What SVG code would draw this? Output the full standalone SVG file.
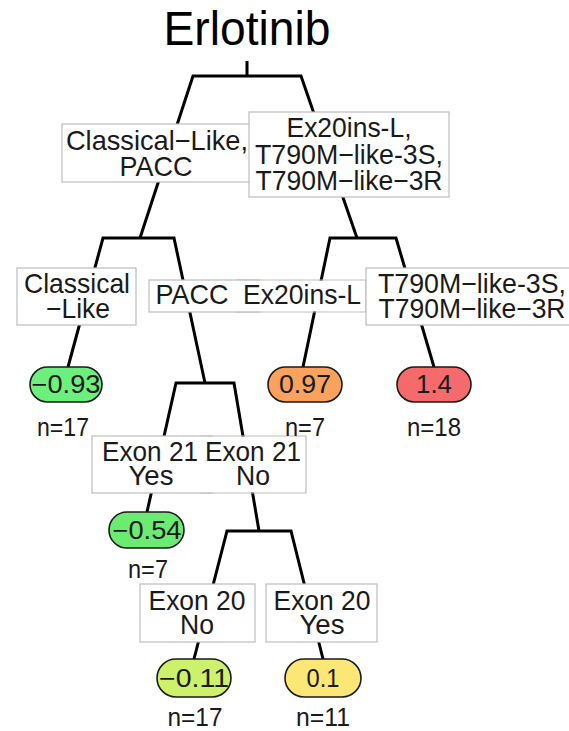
<svg xmlns="http://www.w3.org/2000/svg" width="569" height="731" viewBox="0 0 569 731">
  <style>
    text { font-family: "Liberation Sans", Arial, Helvetica, sans-serif; fill: #1a1a1a; text-anchor: middle; }
    .title { font-size: 49px; fill: #000; }
    .lab { font-size: 28px; }
    .val { font-size: 25px; }
    .n { font-size: 25px; }
    .edge { stroke: #000; stroke-width: 3; fill: none; stroke-linejoin: miter; }
    .box { fill: #fff; stroke: #bdbdbd; stroke-width: 1.2; }
    .fillonly { fill: #fff; stroke: none; }
    .boxedge { fill: none; stroke: #bdbdbd; stroke-width: 1.2; }
    .leaf { stroke: #1a1a1a; stroke-width: 1.6; }
  </style>

  <text class="title" x="247" y="45" textLength="167" lengthAdjust="spacingAndGlyphs">Erlotinib</text>

  <!-- branches: bars with slanted legs -->
  <g id="connectors">
    <path class="edge" d="M247,61 V76 M140,238 L193,76 H301 L357,238"/>
    <path class="edge" d="M68,367 L103,238 H174 L205,383"/>
    <path class="edge" d="M303,367 L330,238 H396 L434,367"/>
    <path class="edge" d="M147,512 L176,383 H234 L259,531"/>
    <path class="edge" d="M194,659 L227,531 H291 L323,659"/>
  </g>

  <!-- split labels -->
  <g id="split-root-left">
    <rect class="box" x="62" y="124" width="188" height="58"/>
    <text class="lab" x="157" y="150" textLength="182" lengthAdjust="spacingAndGlyphs">Classical−Like,</text>
    <text class="lab" x="156" y="176" textLength="73" lengthAdjust="spacingAndGlyphs">PACC</text>
  </g>
  <g id="split-root-right">
    <rect class="box" x="249" y="112" width="200" height="85"/>
    <text class="lab" x="349" y="137" textLength="125" lengthAdjust="spacingAndGlyphs">Ex20ins-L,</text>
    <text class="lab" x="349" y="164" textLength="188" lengthAdjust="spacingAndGlyphs">T790M−like-3S,</text>
    <text class="lab" x="349" y="190" textLength="187" lengthAdjust="spacingAndGlyphs">T790M−like−3R</text>
  </g>

  <g id="split-classical">
    <rect class="box" x="17" y="268" width="119" height="57"/>
    <text class="lab" x="77" y="293" textLength="106" lengthAdjust="spacingAndGlyphs">Classical</text>
    <text class="lab" x="78" y="318" textLength="64" lengthAdjust="spacingAndGlyphs">−Like</text>
  </g>
  <g id="split-pacc">
    <rect class="box" x="149" y="280" width="110" height="32"/>
    <text class="lab" x="192" y="304" textLength="73" lengthAdjust="spacingAndGlyphs">PACC</text>
  </g>
  <g id="split-ex20ins">
    <rect class="fillonly" x="236" y="280.6" width="130" height="30.8"/>
    <path class="boxedge" d="M236,280 H366 V312 H236"/>
    <text class="lab" x="302" y="304" textLength="118" lengthAdjust="spacingAndGlyphs">Ex20ins-L</text>
  </g>
  <g id="split-t790m">
    <rect class="box" x="366" y="268" width="240" height="57"/>
    <text class="lab" x="472" y="293" textLength="188" lengthAdjust="spacingAndGlyphs">T790M−like-3S,</text>
    <text class="lab" x="472" y="318" textLength="187" lengthAdjust="spacingAndGlyphs">T790M−like−3R</text>
  </g>

  <g id="split-exon21-yes">
    <rect class="box" x="92" y="436" width="120" height="57"/>
    <text class="lab" x="150" y="461" textLength="96" lengthAdjust="spacingAndGlyphs">Exon 21</text>
    <text class="lab" x="151" y="485" textLength="45" lengthAdjust="spacingAndGlyphs">Yes</text>
  </g>
  <g id="split-exon21-no">
    <rect class="fillonly" x="200" y="436.6" width="106" height="55.8"/>
    <path class="boxedge" d="M200,436 H306 V493 H200"/>
    <text class="lab" x="253" y="461" textLength="96" lengthAdjust="spacingAndGlyphs">Exon 21</text>
    <text class="lab" x="253" y="485" textLength="34" lengthAdjust="spacingAndGlyphs">No</text>
  </g>

  <g id="split-exon20-no">
    <rect class="box" x="140" y="584" width="115" height="58"/>
    <text class="lab" x="197" y="610" textLength="97" lengthAdjust="spacingAndGlyphs">Exon 20</text>
    <text class="lab" x="197" y="634" textLength="34" lengthAdjust="spacingAndGlyphs">No</text>
  </g>
  <g id="split-exon20-yes">
    <rect class="box" x="266" y="584" width="111" height="58"/>
    <text class="lab" x="322" y="610" textLength="97" lengthAdjust="spacingAndGlyphs">Exon 20</text>
    <text class="lab" x="322" y="634" textLength="45" lengthAdjust="spacingAndGlyphs">Yes</text>
  </g>

  <!-- leaves -->
  <g id="leaf-classical">
    <rect class="leaf" x="30" y="367" width="72" height="35" rx="17.5" fill="#6cef7c"/>
    <text class="val" x="66" y="393" textLength="69" lengthAdjust="spacingAndGlyphs">−0.93</text>
    <text class="n" x="63" y="436" textLength="52" lengthAdjust="spacingAndGlyphs">n=17</text>
  </g>
  <g id="leaf-ex20ins">
    <rect class="leaf" x="268" y="367" width="74" height="35" rx="17.5" fill="#f9a25e"/>
    <text class="val" x="305" y="393" textLength="52" lengthAdjust="spacingAndGlyphs">0.97</text>
    <text class="n" x="305" y="436" textLength="40" lengthAdjust="spacingAndGlyphs">n=7</text>
  </g>
  <g id="leaf-t790m">
    <rect class="leaf" x="397" y="367" width="74" height="35" rx="17.5" fill="#f56a6a"/>
    <text class="val" x="434" y="393" textLength="36" lengthAdjust="spacingAndGlyphs">1.4</text>
    <text class="n" x="434" y="436" textLength="54" lengthAdjust="spacingAndGlyphs">n=18</text>
  </g>
  <g id="leaf-exon21-yes">
    <rect class="leaf" x="109" y="512" width="75" height="36" rx="18" fill="#6ceb74"/>
    <text class="val" x="147" y="539" textLength="69" lengthAdjust="spacingAndGlyphs">−0.54</text>
    <text class="n" x="148" y="578" textLength="40" lengthAdjust="spacingAndGlyphs">n=7</text>
  </g>
  <g id="leaf-exon20-no">
    <rect class="leaf" x="157" y="659" width="74" height="38" rx="19" fill="#cdf16a"/>
    <text class="val" x="194" y="687" textLength="70" lengthAdjust="spacingAndGlyphs">−0.11</text>
    <text class="n" x="195" y="726" textLength="55" lengthAdjust="spacingAndGlyphs">n=17</text>
  </g>
  <g id="leaf-exon20-yes">
    <rect class="leaf" x="285" y="659" width="76" height="38" rx="19" fill="#fbe676"/>
    <text class="val" x="323" y="687" textLength="33" lengthAdjust="spacingAndGlyphs">0.1</text>
    <text class="n" x="323" y="726" textLength="54" lengthAdjust="spacingAndGlyphs">n=11</text>
  </g>
</svg>
